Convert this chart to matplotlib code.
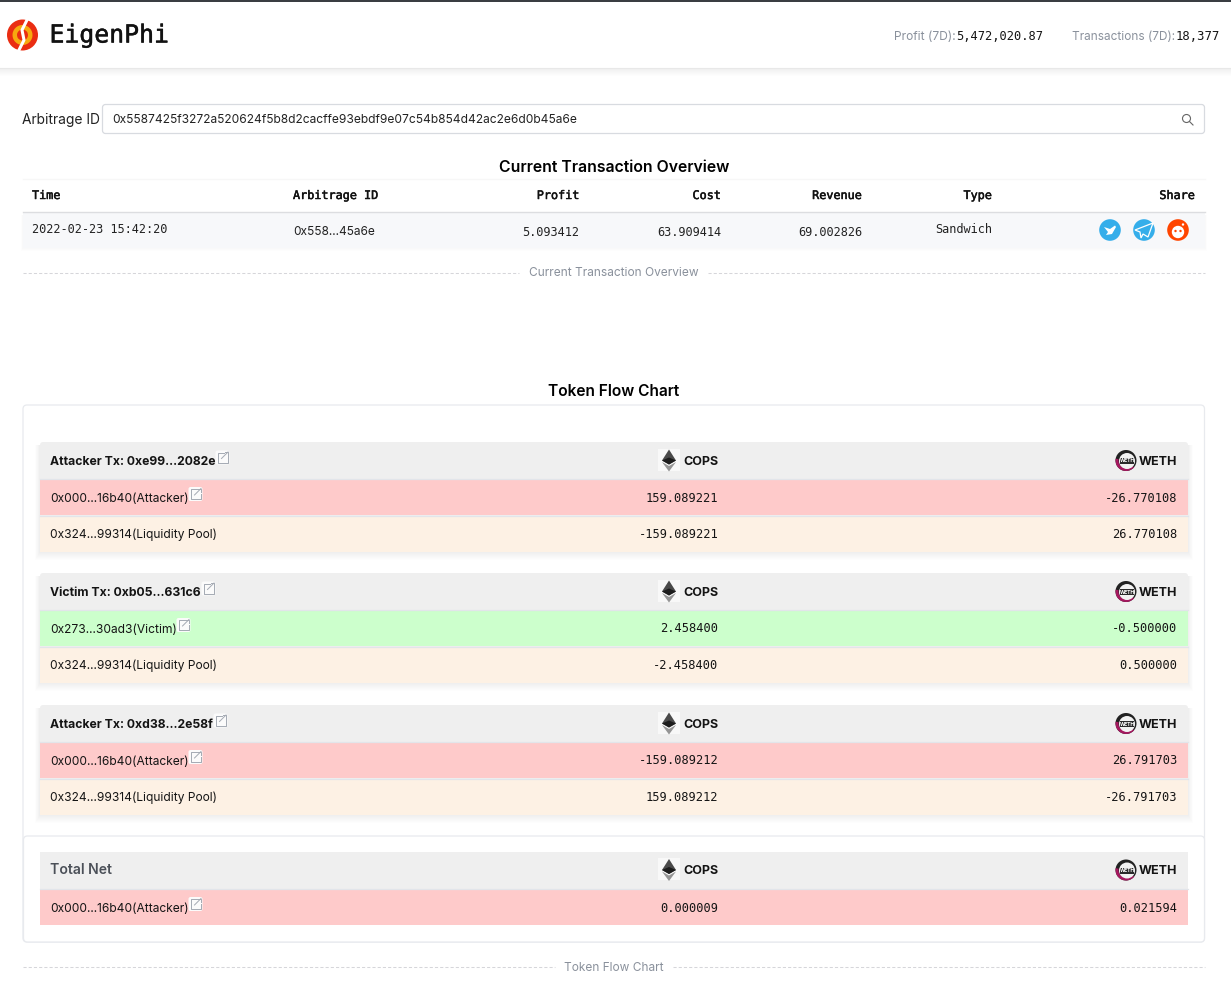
import matplotlib

matplotlib.use("Agg")

import matplotlib.patheffects as path_effects
import matplotlib.pyplot as plt
from matplotlib.patches import Circle, FancyBboxPatch, Polygon, Rectangle, Wedge

SANS = "Inter"
MONO = "DejaVu Sans Mono"

HEADER_LABELS = ["Time", "Arbitrage ID", "Profit", "Cost", "Revenue", "Type", "Share"]
OVERVIEW_ROW = ["2022-02-23 15:42:20", "0x558...45a6e", "5.093412", "63.909414", "69.002826", "Sandwich"]
ARBITRAGE_ID = "0x5587425f3272a520624f5b8d2cacffe93ebdf9e07c54b854d42ac2e6d0b45a6e"

TX_TITLES = ["Attacker Tx: 0xe99...2082e", "Victim Tx: 0xb05...631c6", "Attacker Tx: 0xd38...2e58f"]
TX_ADDRESSES = [
    ["0x000...16b40(Attacker)", "0x324...99314(Liquidity Pool)"],
    ["0x273...30ad3(Victim)", "0x324...99314(Liquidity Pool)"],
    ["0x000...16b40(Attacker)", "0x324...99314(Liquidity Pool)"],
]
COPS_VALUES = [["159.089221", "-159.089221"], ["2.458400", "-2.458400"], ["-159.089212", "159.089212"]]
WETH_VALUES = [["-26.770108", "26.770108"], ["-0.500000", "0.500000"], ["26.791703", "-26.791703"]]
TOTAL_COPS = "0.000009"
TOTAL_WETH = "0.021594"

INK = "#141414"
GREY = "#8a919c"
HEAD_BG = "#efefef"
ATTACKER_BG = "#fecaca"
VICTIM_BG = "#ccffcc"
POOL_BG = "#fdf1e4"
ROW_LINE = "#e2e5ea"


def label(axis, x, y, text, size=12.5, family=SANS, color=INK, heavy=False, **kwargs):
    kwargs.setdefault("va", "center")
    item = axis.text(x, y + 1, text, fontsize=size * 0.72, family=family, color=color, **kwargs)
    if heavy:
        item.set_path_effects([path_effects.withStroke(linewidth=0.35, foreground=color)])


def rounded(axis, x0, y0, x1, y1, radius=3, face="white", edge="none", width=1.0, zorder=1):
    axis.add_patch(
        FancyBboxPatch(
            (x0 + radius, y0 + radius),
            x1 - x0 - 2 * radius,
            y1 - y0 - 2 * radius,
            boxstyle=f"round,pad={radius}",
            facecolor=face,
            edgecolor=edge,
            linewidth=width,
            zorder=zorder,
        )
    )


def shadow(axis, x0, y0, x1, y1, steps=8, zorder=0.5):
    for step in range(steps, 0, -1):
        axis.add_patch(
            Rectangle(
                (x0 - step * 0.6, y0 + 3),
                x1 - x0 + 1.2 * step,
                y1 - y0 + step - 3,
                facecolor="black",
                alpha=0.007,
                edgecolor="none",
                zorder=zorder,
            )
        )


def dashed_title(axis, y, text, gap_left, gap_right):
    axis.plot([23, gap_left], [y, y], color="#d6d6da", lw=0.75, ls=(0, (3, 2)), zorder=2)
    axis.plot([gap_right, 1205], [y, y], color="#d6d6da", lw=0.75, ls=(0, (3, 2)), zorder=2)
    label(axis, 614, y, text, size=11.9, color=GREY, ha="center")


def link_icon(axis, x, y):
    rounded(axis, x - 7, y - 7, x + 7, y + 7, radius=2, face="#fbfbfb", zorder=4)
    axis.plot(
        [x + 1, x - 5, x - 5, x + 5, x + 5],
        [y - 5, y - 5, y + 5, y + 5, y - 0.5],
        color="#a4aab3",
        lw=0.7,
        zorder=5,
    )
    axis.plot([x - 1, x + 5.5], [y + 1, y - 5.5], color="#a4aab3", lw=0.7, zorder=5)
    axis.plot([x + 2, x + 5.5, x + 5.5], [y - 5.5, y - 5.5, y - 2], color="#a4aab3", lw=0.7, zorder=5)


def eth_icon(axis, x, y):
    axis.add_patch(Rectangle((x - 11, y - 12), 22, 22, facecolor="#f8f8f8", edgecolor="none", zorder=4))
    axis.add_patch(Polygon([(x, y - 11), (x - 7, y), (x, y + 4), (x + 7, y)], facecolor="#4a4a4a", zorder=5))
    axis.add_patch(Polygon([(x, y + 4), (x - 7, y), (x, y - 3), (x + 7, y)], facecolor="#1c1c1c", zorder=6))
    axis.add_patch(Polygon([(x - 7, y + 1.5), (x, y + 11), (x + 7, y + 1.5), (x, y + 5.5)], facecolor="#959595", zorder=5))


def weth_icon(axis, x, y):
    axis.add_patch(Circle((x, y), 10.5, facecolor="#222222", zorder=4))
    axis.add_patch(Wedge((x, y), 10.5, 40, 190, width=3, facecolor="#a5185f", zorder=5))
    axis.add_patch(Circle((x + 1, y + 0.5), 8, facecolor="#f2f2f2", zorder=6))
    axis.add_patch(Rectangle((x - 6, y - 2.5), 14, 6, facecolor="#2a2a2a", zorder=7))
    label(axis, x + 1, y - 0.5, "WETH", size=5, color="white", family=SANS, ha="center", weight="bold", zorder=8)


def token_header(axis, y, cops_x=669, weth_x=1126):
    eth_icon(axis, cops_x, y)
    label(axis, 718, y + 0.5, "COPS", size=12.5, ha="right", weight="bold")
    weth_icon(axis, weth_x, y)
    label(axis, 1177, y + 0.5, "WETH", size=12.5, ha="right", weight="bold")


def value_row(axis, y0, y1, address, cops, weth, face, icon_x=None):
    axis.add_patch(Rectangle((40, y0), 1148, y1 - y0, facecolor=face, edgecolor="none", zorder=2))
    axis.plot([40, 1188], [y0, y0], color=ROW_LINE, lw=0.9, zorder=2.5)
    mid = (y0 + y1) / 2
    label(axis, 50.5, mid + 0.6, address, size=12, zorder=3)
    label(axis, 718.5, mid, cops, size=12, family=MONO, ha="right", zorder=3)
    label(axis, 1177.5, mid, weth, size=12, family=MONO, ha="right", zorder=3)
    if icon_x is not None:
        link_icon(axis, icon_x - 0.5, mid - 3)


def page_header(axis):
    axis.add_patch(Rectangle((0, 0), 1231, 2, facecolor="#3a3d42", edgecolor="none", zorder=3))
    for step in range(8, 0, -1):
        axis.add_patch(Rectangle((0, 60), 1231, 8 + step, facecolor="black", alpha=0.006, edgecolor="none", zorder=0.5))
    axis.add_patch(Rectangle((0, 2), 1231, 65.5, facecolor="white", edgecolor="none", zorder=1))
    axis.plot([0, 1231], [67.5, 67.5], color="#e8e8e8", lw=0.8, zorder=1.5)

    axis.add_patch(Circle((22.5, 35), 15.5, facecolor="#ea2d12", zorder=2))
    axis.add_patch(Wedge((22.5, 35), 10, 100, 280, width=4.5, facecolor="#f7a90f", zorder=3))
    axis.add_patch(Wedge((22.5, 35), 10, -80, 100, width=4.5, facecolor="#f7a90f", zorder=3))
    axis.plot([27, 22, 24, 19], [20, 30, 40, 50], color="white", lw=2.2, zorder=4)

    label(axis, 49.5, 34.5, "EigenPhi", size=24.8, family=MONO, color="#111111", heavy=True)
    label(axis, 956, 35.5, "Profit (7D):", size=12, color=GREY, ha="right")
    label(axis, 956, 35.5, "5,472,020.87", size=12, family=MONO, ha="left")
    label(axis, 1175.5, 35.5, "Transactions (7D):", size=11.8, color=GREY, ha="right")
    label(axis, 1176, 35.5, "18,377", size=12.2, family=MONO, ha="left")


def search_box(axis):
    label(axis, 22.5, 119, "Arbitrage ID", size=13.8, color="#222222")
    rounded(axis, 102.5, 104.5, 1204.5, 133.5, radius=3, edge="#d8dbe0", width=0.9, zorder=1)
    label(axis, 112.5, 119, ARBITRAGE_ID, size=12, color="#222222")
    axis.add_patch(Circle((1186.5, 118.5), 4, facecolor="none", edgecolor="#666666", lw=0.8, zorder=2))
    axis.plot([1189.5, 1193], [121.5, 125], color="#666666", lw=0.8, zorder=2)


def overview(axis):
    label(axis, 614, 166.2, "Current Transaction Overview", size=15.8, ha="center", weight="semibold", color="black")
    shadow(axis, 23, 212, 1205, 248, steps=3)
    axis.add_patch(Rectangle((23, 212), 1182, 36, facecolor="#f7f8fa", edgecolor="none", zorder=1))
    axis.plot([23, 1205], [211.5, 211.5], color="#dcdde0", lw=1, zorder=2)
    axis.plot([23, 1205], [178.5, 178.5], color="#f7f7f7", lw=1, zorder=2)

    header_x = [32, 293, 579.5, 721, 862, 992, 1195]
    header_ha = ["left", "left", "right", "right", "right", "right", "right"]
    for text, x, ha in zip(HEADER_LABELS, header_x, header_ha):
        label(axis, x, 194.5, text, size=11.8, family=MONO, ha=ha, color="#111111", heavy=True)

    row_x = [32, 293, 579.5, 721, 862, 992]
    row_ha = ["left", "left", "right", "right", "right", "right"]
    row_y = [228.5, 231, 231, 231, 231, 228.5]
    row_family = [MONO, SANS, MONO, MONO, MONO, MONO]
    for text, x, ha, y, family in zip(OVERVIEW_ROW, row_x, row_ha, row_y, row_family):
        label(axis, x, y, text, size=11.9, family=family, ha=ha, color="#222222")

    axis.add_patch(Circle((1110, 230), 10.8, facecolor="#35aeea", zorder=3))
    axis.add_patch(Polygon([(1104, 227), (1110, 229), (1115, 225.5), (1116, 227), (1112, 234), (1106, 235), (1108, 232)], facecolor="white", zorder=4))
    axis.add_patch(Circle((1144, 230), 10.8, facecolor="#35aeea", zorder=3))
    axis.add_patch(Polygon([(1135, 230), (1153, 223), (1148, 237), (1143, 234), (1141, 238), (1140, 232)], facecolor="none", edgecolor="white", lw=0.9, zorder=4))
    axis.add_patch(Circle((1178, 230), 10.8, facecolor="#ff4500", zorder=3))
    axis.add_patch(Circle((1178, 232), 6.2, facecolor="white", zorder=4))
    axis.add_patch(Circle((1175.5, 231), 1.2, facecolor="#ff4500", zorder=5))
    axis.add_patch(Circle((1180.5, 231), 1.2, facecolor="#ff4500", zorder=5))
    axis.add_patch(Circle((1183, 224.5), 1.2, facecolor="white", zorder=4))

    dashed_title(axis, 272.5, "Current Transaction Overview", 519, 708)


def flow_chart(axis):
    label(axis, 614, 391, "Token Flow Chart", size=15.5, ha="center", weight="semibold", color="black")
    rounded(axis, 23, 405, 1204.5, 942, radius=4, edge="#e8eaee", width=0.9, zorder=0.2)

    header_tops = [442, 573, 705]
    title_icons = [223, 209, 221]
    row_icons = [196, 184, 196]
    row_faces = [ATTACKER_BG, VICTIM_BG, ATTACKER_BG]

    for index, top in enumerate(header_tops):
        shadow(axis, 40, top, 1188, top + 110)
        rounded(axis, 40, top, 1188, top + 40, radius=3, face=HEAD_BG, zorder=1)
        mid = top + 18.5
        label(axis, 50.5, mid + 0.5, TX_TITLES[index], size=12.2, weight="bold", zorder=3)
        link_icon(axis, title_icons[index] - 0.5, mid - 3)
        token_header(axis, mid)
        value_row(
            axis,
            top + 37,
            top + 73,
            TX_ADDRESSES[index][0],
            COPS_VALUES[index][0],
            WETH_VALUES[index][0],
            row_faces[index],
            row_icons[index],
        )
        value_row(
            axis,
            top + 73.5,
            top + 109.5,
            TX_ADDRESSES[index][1],
            COPS_VALUES[index][1],
            WETH_VALUES[index][1],
            POOL_BG,
        )

    rounded(axis, 23.5, 836, 1204.5, 942, radius=4, edge="#e8eaee", width=0.9, zorder=0.7)
    axis.add_patch(Rectangle((40, 852), 1148, 36.5, facecolor=HEAD_BG, edgecolor="none", zorder=1))
    label(axis, 50.5, 869.5, "Total Net", size=14, weight="semibold", color="#4b5058", zorder=3)
    token_header(axis, 870)
    value_row(axis, 889, 925, TX_ADDRESSES[0][0], TOTAL_COPS, TOTAL_WETH, ATTACKER_BG, 196)

    dashed_title(axis, 967, "Token Flow Chart", 555, 673)


fig = plt.figure(figsize=(12.31, 10.07), dpi=100, facecolor="white")
page = fig.add_axes([0, 0, 1, 1])
page.set_xlim(0, 1231)
page.set_ylim(1007, 0)
page.axis("off")

page_header(page)
search_box(page)
overview(page)
flow_chart(page)

fig.savefig("out.png", dpi=100)
plt.close(fig)
